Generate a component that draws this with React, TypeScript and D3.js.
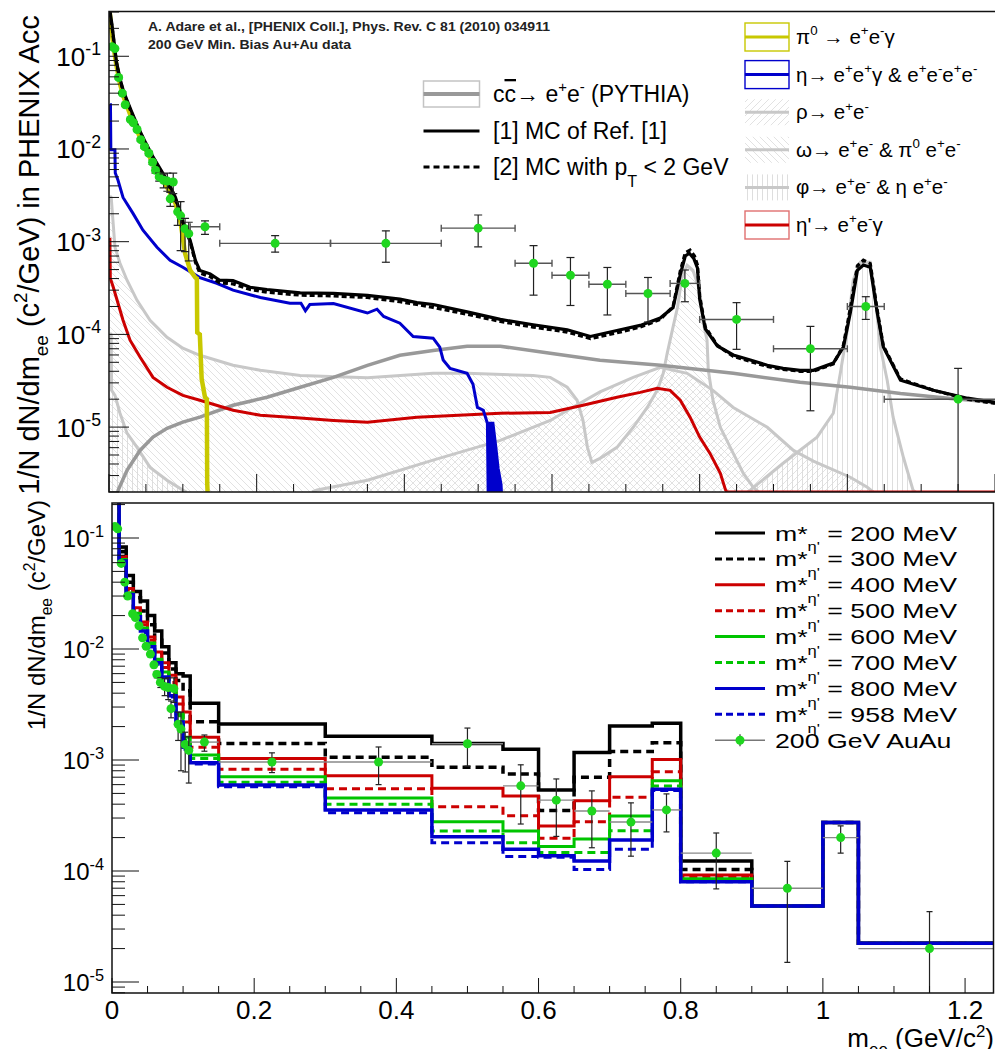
import React from "react";
import * as d3 from "d3";

type P = [number, number];

const FONT = "'Liberation Sans', Arial, Helvetica, sans-serif";

// ---------- upper panel: hadronic cocktail components in PHENIX acceptance ----------
// [m_ee (GeV/c^2), 1/N dN/dm_ee]; 0 marks an empty bin drawn on the axis
const PI0_DALITZ: P[] = [
  [0.001, 0.3], [0.003, 0.2], [0.006, 0.13], [0.01, 0.08], [0.015, 0.05], [0.02, 0.036],
  [0.03, 0.022], [0.04, 0.0145], [0.05, 0.0098], [0.06, 0.0069], [0.07, 0.005], [0.08, 0.0037],
  [0.09, 0.0026], [0.097, 0.0016], [0.103, 7.5e-4], [0.11, 4.9e-4], [0.117, 4.1e-4], [0.119, 4.0e-4],
  [0.1195, 1.05e-4], [0.123, 1.0e-4], [0.1255, 3.3e-5], [0.13, 2.1e-5], [0.1325, 2.0e-5],
  [0.133, 2.5e-6], [0.1335, 0],
];
const ETA_DALITZ: P[] = [
  [0.0012, 0.03], [0.002, 0.03], [0.0025, 0.0098], [0.008, 0.0098], [0.0085, 0.0055], [0.0122, 0.0046],
  [0.019, 0.003], [0.0325, 0.00202], [0.046, 0.00133], [0.065, 8.7e-4], [0.0827, 6.3e-4], [0.1, 5.3e-4],
  [0.123, 4.1e-4], [0.146, 3.56e-4], [0.168, 3.0e-4], [0.205, 2.5e-4], [0.245, 2.17e-4], [0.26, 2.17e-4],
  [0.266, 1.8e-4], [0.272, 2.1e-4], [0.304, 2.15e-4], [0.35, 1.7e-4], [0.363, 1.87e-4], [0.372, 1.56e-4],
  [0.394, 1.32e-4], [0.412, 9.5e-5], [0.439, 9.1e-5], [0.448, 7.3e-5], [0.4526, 5.3e-5], [0.462, 4.3e-5],
  [0.485, 3.8e-5], [0.493, 2.9e-5], [0.499, 1.63e-5], [0.507, 1.52e-5], [0.5125, 1.1e-5], [0.5135, 0],
];
const ETA_DALITZ_TAIL: P[] = [
  [0.5135, 1.1e-5], [0.52, 1.1e-5], [0.524, 6e-6], [0.527, 3.6e-6], [0.531, 2.4e-6], [0.5315, 0],
];
const ETAP_DALITZ: P[] = [
  [0.0012, 1.1e-3], [0.0018, 4.0e-4], [0.0054, 3.3e-4], [0.0122, 2.17e-4], [0.019, 1.42e-4],
  [0.0285, 8.65e-5], [0.042, 5.7e-5], [0.0596, 3.44e-5], [0.0786, 2.69e-5], [0.1, 2.2e-5],
  [0.123, 1.95e-5], [0.168, 1.52e-5], [0.205, 1.34e-5], [0.259, 1.25e-5], [0.304, 1.18e-5],
  [0.35, 1.13e-5], [0.417, 1.28e-5], [0.53, 1.41e-5], [0.5976, 1.44e-5], [0.642, 1.72e-5],
  [0.688, 2.1e-5], [0.7195, 2.37e-5], [0.7425, 2.62e-5], [0.76, 2.49e-5], [0.7737, 1.95e-5],
  [0.787, 1.28e-5], [0.8, 7.8e-6], [0.814, 5.2e-6], [0.828, 3.18e-6], [0.835, 2.1e-6], [0.837, 0], [1.2, 0],
];
const CHARM: P[] = [
  [0.012, 0], [0.0125, 2.1e-6], [0.0244, 3.42e-6], [0.042, 5.6e-6], [0.0596, 7.8e-6], [0.0786, 9.7e-6],
  [0.1, 1.13e-5], [0.123, 1.28e-5], [0.168, 1.72e-5], [0.214, 2.1e-5], [0.259, 2.69e-5], [0.304, 3.44e-5],
  [0.35, 4.64e-5], [0.394, 5.95e-5], [0.439, 6.7e-5], [0.485, 7.45e-5], [0.53, 7.45e-5], [0.5976, 6.25e-5],
  [0.665, 5.26e-5], [0.747, 4.64e-5], [0.8455, 3.8e-5], [0.936, 3.04e-5], [1.004, 2.69e-5], [1.072, 2.3e-5],
  [1.14, 2.04e-5], [1.2, 1.85e-5],
];
const RHO: P[] = [
  [0.275, 0], [0.282, 2.1e-6], [0.35, 2.67e-6], [0.439, 4.4e-6], [0.53, 7.2e-6], [0.5976, 1.18e-5],
  [0.62, 1.5e-5], [0.665, 2.4e-5], [0.71, 3.44e-5], [0.7466, 4.42e-5], [0.783, 3.8e-5], [0.818, 2.49e-5],
  [0.8455, 1.63e-5], [0.8916, 9.95e-6], [0.927, 5.6e-6], [0.954, 4.3e-6], [1.004, 2.88e-6], [1.027, 2.24e-6],
  [1.035, 0],
];
const OMEGA: P[] = [
  [0.0012, 3.1e-3], [0.003, 3.0e-3], [0.0081, 8.7e-4], [0.0149, 5.85e-4], [0.0244, 3.84e-4], [0.038, 2.33e-4],
  [0.0556, 1.42e-4], [0.0786, 9.3e-5], [0.1, 7.1e-5], [0.123, 5.95e-5], [0.168, 4.64e-5], [0.205, 4.1e-5],
  [0.259, 3.6e-5], [0.35, 3.4e-5], [0.439, 3.8e-5], [0.485, 3.8e-5], [0.5745, 3.6e-5], [0.5976, 3.44e-5],
  [0.6206, 2.69e-5], [0.634, 1.95e-5], [0.642, 1.18e-5], [0.648, 6.05e-6], [0.654, 4.17e-6], [0.665, 4.6e-6],
  [0.688, 6.05e-6], [0.71, 9.95e-6], [0.729, 1.63e-5], [0.7425, 2.49e-5], [0.7507, 3.8e-5], [0.756, 6.25e-5],
  [0.763, 1.11e-4], [0.77, 1.96e-4], [0.776, 4.13e-4], [0.783, 5.56e-4], [0.791, 4.9e-4], [0.8, 2.99e-4],
  [0.805, 1.32e-4], [0.81, 8.65e-5], [0.8117, 4.1e-5], [0.818, 1.95e-5], [0.828, 9.95e-6], [0.8455, 5.2e-6],
  [0.859, 3.18e-6], [0.8726, 2.24e-6], [0.88, 0],
];
const PHI_DALITZ: P[] = [
  [0.0012, 1.03e-4], [0.003, 1.0e-4], [0.0035, 2.5e-5], [0.0081, 2.2e-5], [0.0149, 1.41e-5], [0.0244, 8.6e-6],
  [0.038, 6.05e-6], [0.0556, 3.68e-6], [0.0786, 2.67e-6], [0.1, 2.09e-6], [0.105, 0],
];
const PHI_DIRECT: P[] = [
  [0.865, 0], [0.8686, 2.09e-6], [0.913, 4.07e-6], [0.959, 7.8e-6], [0.981, 1.41e-5], [0.9905, 3.8e-5],
  [1.0, 1.11e-4], [1.008, 3.84e-4], [1.0176, 6.0e-4], [1.031, 6.0e-4], [1.038, 2.51e-4], [1.0447, 7.3e-5],
  [1.054, 3.2e-5], [1.062, 1.28e-5], [1.076, 4.7e-6], [1.089, 2.09e-6], [1.092, 0],
];
const TOTAL_REF1: P[] = [
  [0.001, 0.32], [0.004, 0.22], [0.007, 0.14], [0.01, 0.088], [0.015, 0.057], [0.02, 0.041], [0.03, 0.026],
  [0.04, 0.0168], [0.05, 0.0115], [0.06, 0.0081], [0.07, 0.006], [0.08, 0.0044], [0.09, 0.003], [0.1, 0.00165],
  [0.11, 0.00103], [0.117, 6.3e-4], [0.123, 4.9e-4], [0.137, 4.5e-4], [0.15, 3.84e-4], [0.168, 3.8e-4],
  [0.191, 3.22e-4], [0.214, 3.05e-4], [0.259, 2.8e-4], [0.304, 2.77e-4], [0.35, 2.64e-4], [0.394, 2.4e-4],
  [0.417, 2.2e-4], [0.439, 2.1e-4], [0.485, 1.75e-4], [0.53, 1.45e-4], [0.5745, 1.27e-4], [0.6206, 1.12e-4],
  [0.652, 9.5e-5], [0.688, 1.1e-4], [0.7195, 1.25e-4], [0.7466, 1.5e-4], [0.764, 1.95e-4], [0.7737, 4.4e-4],
  [0.7805, 7.0e-4], [0.786, 7.5e-4], [0.792, 6.6e-4], [0.797, 5.2e-4], [0.8, 2.4e-4], [0.8076, 1.15e-4],
  [0.824, 7.5e-5], [0.8455, 6.0e-5], [0.8686, 5.3e-5], [0.8916, 4.65e-5], [0.913, 4.3e-5], [0.936, 4.1e-5],
  [0.954, 4.1e-5], [0.981, 4.9e-5], [0.9946, 7.3e-5], [1.004, 1.7e-4], [1.0136, 4.9e-4], [1.0217, 5.6e-4],
  [1.031, 5.3e-4], [1.0406, 1.7e-4], [1.0488, 7.3e-5], [1.072, 3.2e-5], [1.1165, 2.5e-5], [1.1626, 2.05e-5],
  [1.2, 1.85e-5],
];
const TOTAL_PT2: P[] = [
  [0.001, 0.3], [0.004, 0.21], [0.007, 0.135], [0.01, 0.085], [0.015, 0.055], [0.02, 0.04], [0.03, 0.025],
  [0.04, 0.0163], [0.05, 0.0112], [0.06, 0.0079], [0.07, 0.0058], [0.08, 0.0042], [0.09, 0.0029], [0.1, 0.0016],
  [0.11, 0.001], [0.117, 6.0e-4], [0.123, 4.6e-4], [0.137, 4.2e-4], [0.15, 3.6e-4], [0.168, 3.5e-4],
  [0.191, 3.05e-4], [0.214, 2.85e-4], [0.259, 2.65e-4], [0.304, 2.6e-4], [0.35, 2.5e-4], [0.394, 2.25e-4],
  [0.417, 2.1e-4], [0.439, 1.95e-4], [0.485, 1.65e-4], [0.53, 1.38e-4], [0.5745, 1.2e-4], [0.6206, 1.06e-4],
  [0.652, 9.0e-5], [0.688, 1.04e-4], [0.7195, 1.2e-4], [0.7466, 1.45e-4], [0.764, 2.0e-4], [0.7737, 4.8e-4],
  [0.7805, 7.6e-4], [0.787, 8.1e-4], [0.793, 7.0e-4], [0.797, 5.6e-4], [0.8, 2.6e-4], [0.8076, 1.2e-4],
  [0.824, 7.6e-5], [0.8455, 5.8e-5], [0.8686, 5.1e-5], [0.8916, 4.5e-5], [0.913, 4.2e-5], [0.936, 4.0e-5],
  [0.954, 4.0e-5], [0.981, 4.8e-5], [0.9946, 7.6e-5], [1.004, 1.9e-4], [1.0136, 5.5e-4], [1.0217, 6.3e-4],
  [1.031, 5.8e-4], [1.0406, 1.8e-4], [1.0488, 7.5e-5], [1.072, 3.3e-5], [1.1165, 2.5e-5], [1.1626, 2.0e-5],
  [1.2, 1.8e-5],
];

// ---------- 200 GeV Au+Au minimum-bias dielectron yield ----------
// fine low-mass bins (no horizontal extent drawn)
const FINE_M = [0.004, 0.008, 0.013, 0.018, 0.022, 0.029, 0.033, 0.038, 0.043, 0.048, 0.054, 0.059, 0.063, 0.068, 0.074, 0.079, 0.083, 0.087, 0.093, 0.097, 0.103, 0.108];
const FINE_Y = [0.127, 0.121, 0.059, 0.04, 0.03, 0.0208, 0.0192, 0.0162, 0.0126, 0.0106, 0.009, 0.0072, 0.0059, 0.005, 0.0046, 0.0045, 0.0029, 0.0044, 0.0021, 0.0019, 0.00138, 0.00122];
const FINE_EHI = [0.004, 0.004, 0.002, 0.0012, 0.0009, 0.0006, 0.0006, 0.0005, 0.0004, 0.0004, 0.0004, 0.0004, 0.0004, 0.0005, 0.0008, 0.001, 0.0005, 0.0011, 0.0006, 0.0008, 0.0004, 0.0004];
const FINE_ELO = [0.004, 0.004, 0.002, 0.0012, 0.0009, 0.0006, 0.0006, 0.0005, 0.0004, 0.0004, 0.0004, 0.0004, 0.0004, 0.0005, 0.0008, 0.001, 0.0005, 0.0011, 0.0006, 0.0011, 0.0006, 0.0006];
// wide bins above the pi0 mass
const WIDE_M = [0.13, 0.225, 0.375, 0.5, 0.575, 0.625, 0.675, 0.73, 0.78, 0.85, 0.95, 1.025, 1.15];
const WIDE_Y = [1.45e-3, 9.6e-4, 9.6e-4, 1.4e-3, 5.85e-4, 4.35e-4, 3.47e-4, 2.76e-4, 3.55e-4, 1.45e-4, 7.0e-5, 2.0e-4, 2.0e-5];
const WIDE_EHI = [2.3e-4, 2.0e-4, 3.5e-4, 5.4e-4, 3.2e-4, 2.4e-4, 1.8e-4, 1.35e-4, 1.4e-4, 7.5e-5, 5.2e-5, 5.5e-5, 2.3e-5];
const WIDE_ELO = [2.5e-4, 1.9e-4, 3.6e-4, 5.2e-4, 3.2e-4, 2.3e-4, 1.85e-4, 1.4e-4, 1.3e-4, 7.6e-5, 5.5e-5, 5.5e-5, 2.0e-5];
const WIDE_XLO = [0.11, 0.15, 0.3, 0.45, 0.55, 0.6, 0.65, 0.7, 0.76, 0.8, 0.9, 1.0, 1.05];
const WIDE_XHI = [0.15, 0.3, 0.45, 0.55, 0.6, 0.65, 0.7, 0.76, 0.8, 0.9, 1.0, 1.05, 1.25];

// ---------- lower panel: cocktail sums for in-medium eta' masses ----------
const BIN_EDGES = [0, 0.01, 0.02, 0.03, 0.04, 0.05, 0.06, 0.07, 0.08, 0.09, 0.1, 0.11, 0.15, 0.3, 0.45, 0.55, 0.6, 0.65, 0.7, 0.76, 0.8, 0.9, 1.0, 1.05, 1.25];
const M200 = [0.25, 0.083, 0.046, 0.033, 0.027, 0.02, 0.0145, 0.0105, 0.0075, 0.006, 0.0057, 3.24e-3, 2.11e-3, 1.64e-3, 1.41e-3, 1.25e-3, 5.37e-4, 1.17e-3, 2.02e-3, 2.14e-3, 1.23e-4, 4.84e-5, 2.74e-4, 2.23e-5];
const M300 = [0.25, 0.075, 0.04, 0.029, 0.022, 0.0165, 0.012, 0.0092, 0.0066, 0.0052, 0.0042, 2.21e-3, 1.41e-3, 1.06e-3, 8.6e-4, 7.48e-4, 3.5e-4, 6.98e-4, 1.19e-3, 1.43e-3, 1.03e-4, 4.84e-5, 2.74e-4, 2.23e-5];
const M400 = [0.24, 0.068, 0.035, 0.0235, 0.0175, 0.0128, 0.0094, 0.0075, 0.0058, 0.0037, 0.0027, 1.6e-3, 1.03e-3, 7.2e-4, 5.56e-4, 4.74e-4, 2.54e-4, 4.3e-4, 7.08e-4, 1.01e-3, 9.2e-5, 4.84e-5, 2.74e-4, 2.23e-5];
const M500 = [0.24, 0.066, 0.034, 0.0225, 0.0165, 0.012, 0.0088, 0.0068, 0.005, 0.0032, 0.0022, 1.3e-3, 8.24e-4, 5.5e-4, 3.8e-4, 3.15e-4, 1.97e-4, 2.78e-4, 4.61e-4, 7.85e-4, 8.8e-5, 4.84e-5, 2.74e-4, 2.23e-5];
const M600 = [0.24, 0.064, 0.032, 0.021, 0.0155, 0.0113, 0.0081, 0.0062, 0.0043, 0.0026, 0.0016, 1.11e-3, 7.08e-4, 4.55e-4, 2.78e-4, 2.29e-4, 1.66e-4, 1.94e-4, 3.13e-4, 6.5e-4, 8.5e-5, 4.84e-5, 2.74e-4, 2.23e-5];
const M700 = [0.24, 0.063, 0.0315, 0.0205, 0.015, 0.011, 0.0078, 0.006, 0.0041, 0.0025, 0.0015, 1.03e-3, 6.3e-4, 3.99e-4, 2.29e-4, 1.8e-4, 1.47e-4, 1.47e-4, 2.31e-4, 5.83e-4, 8.3e-5, 4.84e-5, 2.74e-4, 2.23e-5];
const M800 = [0.24, 0.062, 0.031, 0.0195, 0.0145, 0.0105, 0.0075, 0.0056, 0.0038, 0.0022, 0.0013, 9.45e-4, 5.96e-4, 3.55e-4, 2.04e-4, 1.57e-4, 1.37e-4, 1.23e-4, 1.9e-4, 5.45e-4, 8.0e-5, 4.84e-5, 2.74e-4, 2.23e-5];
const M958 = [0.24, 0.061, 0.03, 0.019, 0.014, 0.0102, 0.0073, 0.0055, 0.0037, 0.0021, 0.00125, 9.2e-4, 5.75e-4, 3.35e-4, 1.8e-4, 1.35e-4, 1.33e-4, 1.03e-4, 1.57e-4, 5.3e-4, 8.0e-5, 4.84e-5, 2.74e-4, 2.23e-5];
const MSTAR_LABELS = ["200", "300", "400", "500", "600", "700", "800", "958"];

const X_TICKS = [0, 0.2, 0.4, 0.6, 0.8, 1.0, 1.2];
const X_TICK_LABELS = ["0", "0.2", "0.4", "0.6", "0.8", "1", "1.2"];
const Y_DECADES_TOP = [-1, -2, -3, -4, -5];
const Y_DECADES_BOT = [-1, -2, -3, -4, -5];

const YELLOW = "#c8c800";
const BLUE = "#0000cc";
const RED = "#cc0000";
const LGRAY = "#c8c8c8";
const CGRAY = "#999999";
const GREEN = "#00c400";
const DOT = "#1fd61f";
const HATCH = "#dadada";

// ---------- frames & scales ----------
const TOP = { l: 109, r: 995, t: 11.5, b: 492 };
const BOT = { l: 112, r: 993.5, t: 503, b: 993 };

const xTop = d3.scaleLinear().domain([0, 1.2]).range([TOP.l, TOP.r]);
const yTop = d3.scaleLog().domain([1.995e-6, 0.304]).range([TOP.b, TOP.t]);
const xBot = d3.scaleLinear().domain([0, 1.24]).range([BOT.l, BOT.r]);
const yBot = d3.scaleLog().domain([7.96e-6, 0.2067]).range([BOT.b, BOT.t]);

const yT = (v: number) => (v > 0 ? yTop(v) : TOP.b);
const lineTop = d3.line<P>().x((d) => xTop(d[0])).y((d) => yT(d[1]));
const areaTop = d3.area<P>().x((d) => xTop(d[0])).y0(TOP.b).y1((d) => yT(d[1]));

function histPath(vals: number[]) {
  const pts: P[] = BIN_EDGES.map((e, i) => [e, vals[Math.min(i, vals.length - 1)]]);
  return d3.line<P>().x((d) => xBot(d[0])).y((d) => yBot(d[1])).curve(d3.curveStepAfter)(pts) || "";
}

type Seg = { t: string; k?: "sup" | "sub" | "over"; off?: number; sc?: number };

function Rich({ x, y, segs, size, anchor = "start", weight, fill = "#000", len }: {
  x: number; y: number; segs: Seg[]; size: number; anchor?: string; weight?: string | number; fill?: string; len?: number;
}) {
  let shift = 0;
  return (
    <text x={x} y={y} fontSize={size} textAnchor={anchor} fontWeight={weight} fill={fill}
      fontFamily={FONT} style={{ whiteSpace: "pre" }}
      {...(len ? { textLength: len, lengthAdjust: "spacingAndGlyphs" } : {})}>
      {segs.map((s, i) => {
        const target = s.k === "sup" ? -(s.off ?? 0.42) * size : s.k === "sub" ? (s.off ?? 0.3) * size : 0;
        const dy = target - shift;
        shift = target;
        const fs = s.k === "sup" || s.k === "sub" ? size * (s.sc ?? 0.65) : size;
        return (
          <tspan key={i} dy={dy} fontSize={fs} textDecoration={s.k === "over" ? "overline" : undefined}>
            {s.t}
          </tspan>
        );
      })}
    </text>
  );
}

function logTicks(scale: d3.ScaleLogarithmic<number, number>) {
  const [lo, hi] = scale.domain();
  const out: { v: number; major: boolean }[] = [];
  for (let e = Math.floor(Math.log10(lo)); e <= Math.ceil(Math.log10(hi)); e++) {
    for (let k = 1; k <= 9; k++) {
      const v = k * Math.pow(10, e);
      if (v >= lo && v <= hi) out.push({ v, major: k === 1 });
    }
  }
  return out;
}

function linTicks(max: number) {
  const out: { v: number; major: boolean }[] = [];
  for (let i = 0; i * 0.05 <= max + 1e-9; i++) out.push({ v: i * 0.05, major: i % 4 === 0 });
  return out;
}

function ErrPoints({ xs, ys, m, y, ehi, elo, xlo, xhi, r, cap, hColor, vColor, hcap, floorY }: any) {
  return (
    <g>
      {m.map((mm: number, i: number) => {
        const cx = xs(mm);
        const cy = ys(y[i]);
        const lowV = y[i] - elo[i];
        const yLo = lowV > 0 ? ys(lowV) : floorY + 5;
        const yHi = ys(y[i] + ehi[i]);
        return (
          <g key={i}>
            {xlo && (
              <g stroke={hColor} strokeWidth={1.4}>
                <line x1={xs(xlo[i])} x2={xs(xhi[i])} y1={cy} y2={cy} />
                {hcap && <line x1={xs(xlo[i])} x2={xs(xlo[i])} y1={cy - 3.5} y2={cy + 3.5} />}
                {hcap && <line x1={xs(xhi[i])} x2={xs(xhi[i])} y1={cy - 3.5} y2={cy + 3.5} />}
              </g>
            )}
            <g stroke={vColor} strokeWidth={1.2}>
              <line x1={cx} x2={cx} y1={yHi} y2={yLo} />
              <line x1={cx - cap} x2={cx + cap} y1={yHi} y2={yHi} />
              {lowV > 0 && <line x1={cx - cap} x2={cx + cap} y1={yLo} y2={yLo} />}
            </g>
            <circle cx={cx} cy={cy} r={r} fill={DOT} />
          </g>
        );
      })}
    </g>
  );
}

const TOP_LEGEND: { segs: Seg[]; kind: string }[] = [
  { kind: "pi0", segs: [{ t: "π" }, { t: "0", k: "sup" }, { t: " → e" }, { t: "+", k: "sup" }, { t: "e" }, { t: "-", k: "sup" }, { t: "γ" }] },
  { kind: "eta", segs: [{ t: "η→ e" }, { t: "+", k: "sup" }, { t: "e" }, { t: "+", k: "sup" }, { t: "γ & e" }, { t: "+", k: "sup" }, { t: "e" }, { t: "-", k: "sup" }, { t: "e" }, { t: "+", k: "sup" }, { t: "e" }, { t: "-", k: "sup" }] },
  { kind: "rho", segs: [{ t: "ρ→ e" }, { t: "+", k: "sup" }, { t: "e" }, { t: "-", k: "sup" }] },
  { kind: "omega", segs: [{ t: "ω→ e" }, { t: "+", k: "sup" }, { t: "e" }, { t: "-", k: "sup" }, { t: " & π" }, { t: "0", k: "sup" }, { t: " e" }, { t: "+", k: "sup" }, { t: "e" }, { t: "-", k: "sup" }] },
  { kind: "phi", segs: [{ t: "φ→ e" }, { t: "+", k: "sup" }, { t: "e" }, { t: "-", k: "sup" }, { t: " & η e" }, { t: "+", k: "sup" }, { t: "e" }, { t: "-", k: "sup" }] },
  { kind: "etap", segs: [{ t: "η'→ e" }, { t: "+", k: "sup" }, { t: "e" }, { t: "-", k: "sup" }, { t: "γ" }] },
];

export default function App() {
  const topTicksY = logTicks(yTop);
  const botTicksY = logTicks(yBot);
  const topTicksX = linTicks(1.2);
  const botTicksX = linTicks(1.24);

  const bottomSeries = [
    { v: M200, c: "#000", dash: undefined, w: 3.5 },
    { v: M300, c: "#000", dash: "8 5", w: 3.5 },
    { v: M400, c: RED, dash: undefined, w: 3 },
    { v: M500, c: RED, dash: "8 5", w: 3 },
    { v: M600, c: GREEN, dash: undefined, w: 3 },
    { v: M700, c: GREEN, dash: "8 5", w: 3 },
    { v: M800, c: BLUE, dash: undefined, w: 3.5 },
    { v: M958, c: BLUE, dash: "8 5", w: 3 },
  ];

  return (
    <svg width={995} height={1049} style={{ position: "absolute", left: 0, top: 0, background: "#fff" }}
      fontFamily={FONT}>
      <defs>
        <clipPath id="clipTop">
          <rect x={TOP.l} y={TOP.t} width={TOP.r - TOP.l} height={TOP.b - TOP.t} />
        </clipPath>
        <clipPath id="clipBot">
          <rect x={BOT.l} y={BOT.t} width={BOT.r - BOT.l} height={BOT.b - BOT.t} />
        </clipPath>
        <pattern id="hFwd" width={7} height={7} patternUnits="userSpaceOnUse">
          <path d="M0,7 L7,0 M-2,2 L2,-2 M5,9 L9,5" stroke={HATCH} strokeWidth={0.8} />
        </pattern>
        <pattern id="hBack" width={7} height={7} patternUnits="userSpaceOnUse">
          <path d="M0,0 L7,7 M-2,5 L2,9 M5,-2 L9,2" stroke={HATCH} strokeWidth={0.8} />
        </pattern>
        <pattern id="hVert" width={5} height={5} patternUnits="userSpaceOnUse">
          <path d="M2.5,0 V5" stroke={HATCH} strokeWidth={0.9} />
        </pattern>
      </defs>

      {/* ================= upper panel ================= */}
      <g clipPath="url(#clipTop)">
        <path d={areaTop(OMEGA) || ""} fill="url(#hBack)" />
        <path d={areaTop(RHO) || ""} fill="url(#hFwd)" />
        <path d={areaTop(PHI_DALITZ) || ""} fill="url(#hVert)" />
        <path d={areaTop(PHI_DIRECT) || ""} fill="url(#hVert)" />
        {[PHI_DALITZ, PHI_DIRECT, RHO, OMEGA].map((s, i) => (
          <path key={i} d={lineTop(s) || ""} fill="none" stroke={LGRAY} strokeWidth={3} />
        ))}
        <path d={lineTop(CHARM) || ""} fill="none" stroke={CGRAY} strokeWidth={3.5} />
        <path d={lineTop(ETAP_DALITZ) || ""} fill="none" stroke={RED} strokeWidth={3} />
        <path d={areaTop(ETA_DALITZ_TAIL) || ""} fill={BLUE} />
        <path d={lineTop(ETA_DALITZ_TAIL) || ""} fill="none" stroke={BLUE} strokeWidth={3} />
        <path d={lineTop(ETA_DALITZ) || ""} fill="none" stroke={BLUE} strokeWidth={3} />
        <path d={lineTop(PI0_DALITZ) || ""} fill="none" stroke={YELLOW} strokeWidth={4.5} />
        <path d={lineTop(TOTAL_REF1) || ""} fill="none" stroke="#000" strokeWidth={3.2} />
        <path d={lineTop(TOTAL_PT2) || ""} fill="none" stroke="#000" strokeWidth={3.2} strokeDasharray="5 3" />
        <ErrPoints xs={xTop} ys={yTop} m={FINE_M} y={FINE_Y} ehi={FINE_EHI} elo={FINE_ELO}
          r={4.5} cap={4} hColor="#555" vColor="#222" floorY={TOP.b} />
        <ErrPoints xs={xTop} ys={yTop} m={WIDE_M} y={WIDE_Y} ehi={WIDE_EHI} elo={WIDE_ELO}
          xlo={WIDE_XLO} xhi={WIDE_XHI} r={4.5} cap={4} hcap hColor="#555" vColor="#222" floorY={TOP.b} />
      </g>
      {/* frame (right edge falls outside the canvas) */}
      <path d={`M${TOP.r + 2},${TOP.t} H${TOP.l} V${TOP.b} H${TOP.r + 2}`} fill="none" stroke="#111" strokeWidth={1.5} />
      {topTicksY.map((t, i) => (
        <line key={i} x1={TOP.l} x2={TOP.l + (t.major ? 20 : 10)} y1={yTop(t.v)} y2={yTop(t.v)} stroke="#111" strokeWidth={1} />
      ))}
      {topTicksX.map((t, i) => (
        <line key={i} x1={xTop(t.v)} x2={xTop(t.v)} y1={TOP.b} y2={TOP.b - (t.major ? 18 : 8)} stroke="#111" strokeWidth={1} />
      ))}
      {Y_DECADES_TOP.map((e) => (
        <Rich key={e} x={101} y={yTop(Math.pow(10, e)) + 9.5} size={26} anchor="end"
          segs={[{ t: "10" }, { t: `${e}`, k: "sup", off: 0.4, sc: 0.68 }]} />
      ))}
      <g transform="translate(39,255) rotate(-90)">
        <Rich x={0} y={0} size={29} anchor="middle"
          segs={[{ t: "1/N dN/dm" }, { t: "ee", k: "sub" }, { t: " (c" }, { t: "2", k: "sup" }, { t: "/GeV) in PHENIX Acc" }]} />
      </g>

      {/* reference note */}
      <Rich x={148} y={30.5} size={12} weight="bold" fill="#222" len={402}
        segs={[{ t: "A. Adare et al., [PHENIX Coll.], Phys. Rev. C 81 (2010) 034911" }]} />
      <Rich x={148} y={49} size={12} weight="bold" fill="#222" len={203}
        segs={[{ t: "200 GeV Min. Bias Au+Au data" }]} />

      {/* left legend */}
      <g>
        <rect x={423.5} y={81} width={56} height={26} fill="#fff" stroke="#c4c4c4" strokeWidth={1.5} />
        <line x1={423.5} x2={479.5} y1={94} y2={94} stroke={CGRAY} strokeWidth={4} />
        <Rich x={493} y={102} size={23}
          segs={[{ t: "c" }, { t: "c", k: "over" }, { t: "→ e" }, { t: "+", k: "sup" }, { t: "e" }, { t: "-", k: "sup" }, { t: " (PYTHIA)" }]} />
        <line x1={423.5} x2={479.5} y1={131} y2={131} stroke="#000" strokeWidth={3} />
        <Rich x={493} y={139} size={23} segs={[{ t: "[1] MC of Ref. [1]" }]} />
        <line x1={423.5} x2={479.5} y1={167} y2={167} stroke="#000" strokeWidth={3} strokeDasharray="6 4" />
        <Rich x={493} y={175} size={23}
          segs={[{ t: "[2] MC with p" }, { t: "T", k: "sub", off: 0.5, sc: 0.7 }, { t: " < 2 GeV" }]} />
      </g>

      {/* right legend */}
      {TOP_LEGEND.map((row, i) => {
        const cy = 37 + i * 37.6;
        const x0 = 745, x1 = 789;
        let sample: React.ReactNode = null;
        if (row.kind === "pi0" || row.kind === "eta" || row.kind === "etap") {
          const c = row.kind === "pi0" ? YELLOW : row.kind === "eta" ? BLUE : RED;
          const bc = row.kind === "etap" ? "#e07070" : c;
          sample = (
            <g>
              <rect x={x0} y={cy - 14} width={x1 - x0} height={28} fill="#fff" stroke={bc} strokeWidth={1.4} />
              <line x1={x0} x2={x1} y1={cy} y2={cy} stroke={c} strokeWidth={3} />
            </g>
          );
        } else {
          const pat = row.kind === "rho" ? "hFwd" : row.kind === "omega" ? "hBack" : "hVert";
          sample = (
            <g>
              <rect x={x0} y={cy - 13} width={x1 - x0} height={26} fill={`url(#${pat})`} />
              <line x1={x0} x2={x1} y1={cy} y2={cy} stroke={LGRAY} strokeWidth={3} />
            </g>
          );
        }
        return (
          <g key={i}>
            {sample}
            <Rich x={796} y={cy + 7} size={20.5} segs={row.segs} />
          </g>
        );
      })}

      {/* ================= lower panel ================= */}
      <g clipPath="url(#clipBot)">
        {bottomSeries.map((s, i) => (
          <path key={i} d={histPath(s.v)} fill="none" stroke={s.c} strokeWidth={s.w} strokeDasharray={s.dash} />
        ))}
        <ErrPoints xs={xBot} ys={yBot} m={FINE_M} y={FINE_Y} ehi={FINE_EHI} elo={FINE_ELO}
          r={4.5} cap={3} hColor="#888" vColor="#222" floorY={BOT.b} />
        <ErrPoints xs={xBot} ys={yBot} m={WIDE_M} y={WIDE_Y} ehi={WIDE_EHI} elo={WIDE_ELO}
          xlo={WIDE_XLO} xhi={WIDE_XHI} r={4.5} cap={3} hColor="#888" vColor="#222" floorY={BOT.b} />
      </g>
      <rect x={BOT.l} y={BOT.t} width={BOT.r - BOT.l} height={BOT.b - BOT.t} fill="none" stroke="#111" strokeWidth={1.5} />
      {botTicksY.map((t, i) => (
        <line key={i} x1={BOT.l} x2={BOT.l + (t.major ? 27 : 13)} y1={yBot(t.v)} y2={yBot(t.v)} stroke="#111" strokeWidth={1} />
      ))}
      {botTicksX.map((t, i) => (
        <line key={i} x1={xBot(t.v)} x2={xBot(t.v)} y1={BOT.b} y2={BOT.b - (t.major ? 15 : 7)} stroke="#111" strokeWidth={1} />
      ))}
      {Y_DECADES_BOT.map((e) => (
        <Rich key={e} x={104} y={yBot(Math.pow(10, e)) + 8.5} size={24} anchor="end"
          segs={[{ t: "10" }, { t: `${e}`, k: "sup", off: 0.4, sc: 0.68 }]} />
      ))}
      {X_TICKS.map((v, i) => (
        <text key={i} x={xBot(v)} y={1019} fontSize={26} textAnchor="middle" fontFamily={FONT}>{X_TICK_LABELS[i]}</text>
      ))}
      <Rich x={994} y={1047} size={26} anchor="end"
        segs={[{ t: "m" }, { t: "ee", k: "sub" }, { t: " (GeV/c" }, { t: "2", k: "sup", off: 0.38 }, { t: ")" }]} />
      <g transform="translate(45,615) rotate(-90)">
        <Rich x={0} y={0} size={24} anchor="middle"
          segs={[{ t: "1/N dN/dm" }, { t: "ee", k: "sub" }, { t: " (c" }, { t: "2", k: "sup" }, { t: "/GeV)" }]} />
      </g>

      {/* lower legend (wide lettering) */}
      {bottomSeries.map((s, i) => {
        const cy = 533 + i * 25.9;
        return (
          <g key={i}>
            <line x1={715} x2={765} y1={cy} y2={cy} stroke={s.c} strokeWidth={3} strokeDasharray={s.dash ? "7 4" : undefined} />
            <g transform={`translate(775,${cy + 7.5}) scale(1.27,1)`}>
              <Rich x={0} y={0} size={21}
                segs={[{ t: "m*" }, { t: "η'", k: "sub", off: 0.52, sc: 0.62 }, { t: ` = ${MSTAR_LABELS[i]} MeV` }]} />
            </g>
          </g>
        );
      })}
      {(() => {
        const cy = 533 + 8 * 25.9;
        return (
          <g>
            <line x1={715} x2={765} y1={cy} y2={cy} stroke="#777" strokeWidth={1.5} />
            <line x1={740} x2={740} y1={cy - 6} y2={cy + 6} stroke="#333" strokeWidth={1.2} />
            <circle cx={740} cy={cy} r={4.5} fill={DOT} />
            <g transform={`translate(775,${cy + 7.5}) scale(1.27,1)`}>
              <Rich x={0} y={0} size={21} segs={[{ t: "200 GeV AuAu" }]} />
            </g>
          </g>
        );
      })()}
    </svg>
  );
}
